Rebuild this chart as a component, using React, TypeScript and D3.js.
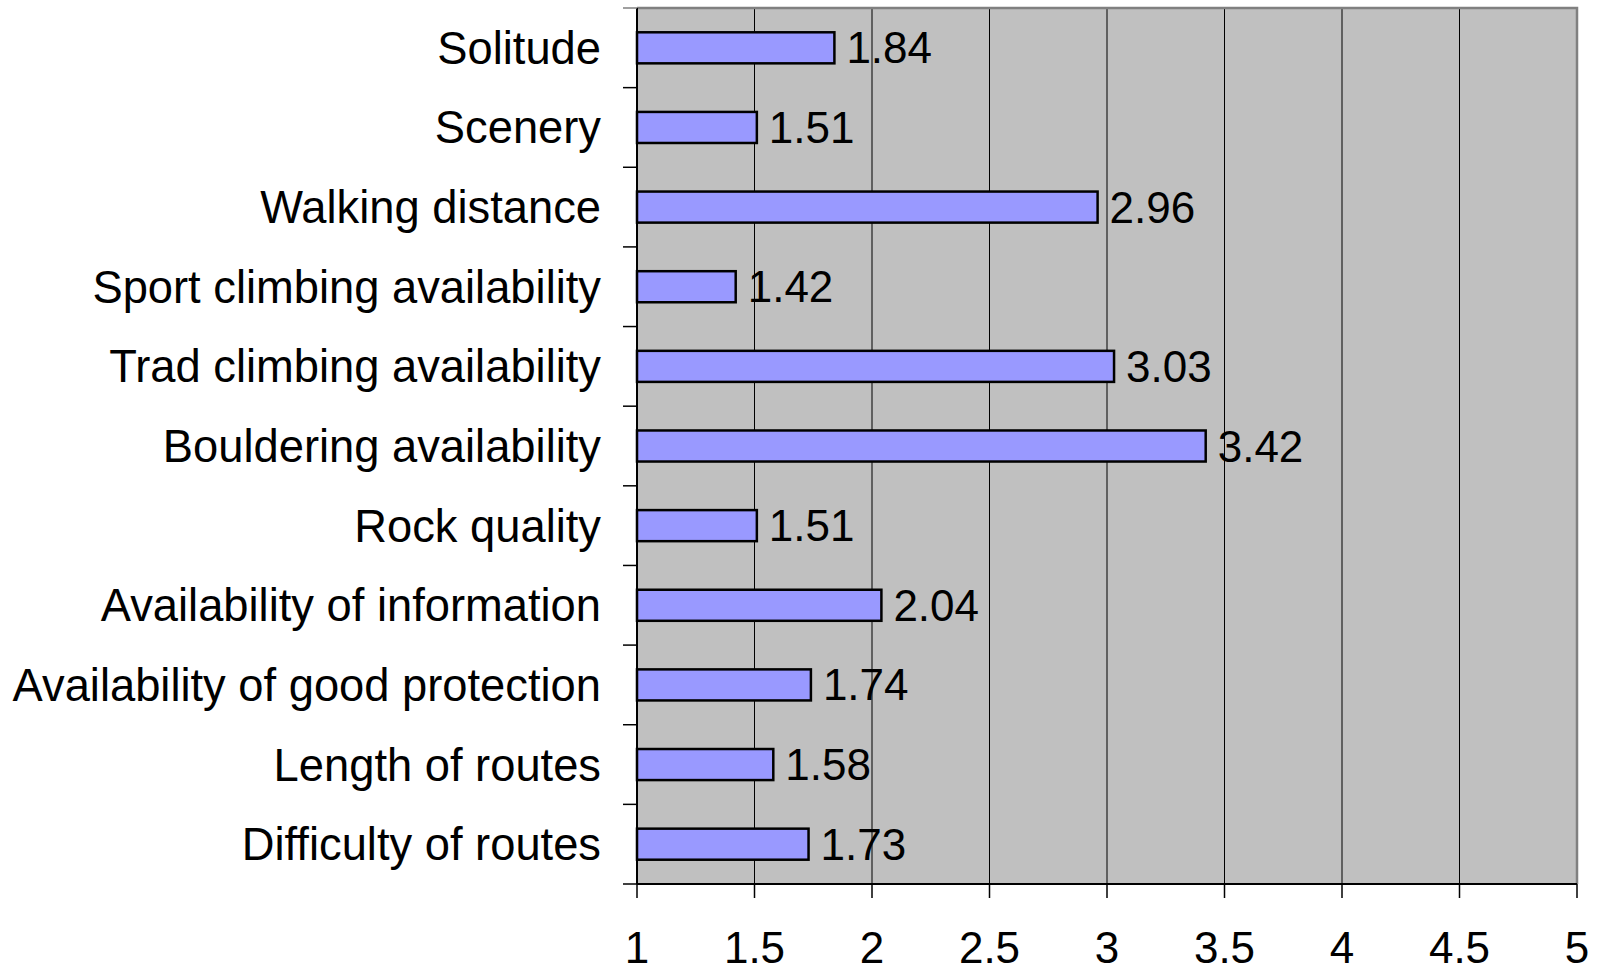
import React from "react";
import * as d3 from "d3";

const categories = [
  "Solitude",
  "Scenery",
  "Walking distance",
  "Sport climbing availability",
  "Trad climbing availability",
  "Bouldering availability",
  "Rock quality",
  "Availability of information",
  "Availability of good protection",
  "Length of routes",
  "Difficulty of routes",
];
const values = [1.84, 1.51, 2.96, 1.42, 3.03, 3.42, 1.51, 2.04, 1.74, 1.58, 1.73];
const xTicks = [1, 1.5, 2, 2.5, 3, 3.5, 4, 4.5, 5];
const xTickLabels = ["1", "1.5", "2", "2.5", "3", "3.5", "4", "4.5", "5"];

const W = 1597;
const H = 971;
const plot = { left: 637, right: 1577, top: 8, bottom: 884 };
const FONT = "Arial, 'Liberation Sans', sans-serif";

export default function App() {
  const x = d3.scaleLinear().domain([1, 5]).range([plot.left, plot.right]);
  const y = d3
    .scaleBand<string>()
    .domain(categories)
    .range([plot.top, plot.bottom])
    .paddingInner(0.61)
    .paddingOuter(0.305);
  const step = y.step();
  const boundaries = d3.range(categories.length + 1).map((i) => plot.top + i * step);

  return (
    <svg
      width={W}
      height={H}
      style={{ position: "absolute", left: 0, top: 0, background: "#fff" }}
      fontFamily={FONT}
    >
      {/* plot background */}
      <rect
        x={plot.left}
        y={plot.top}
        width={plot.right - plot.left}
        height={plot.bottom - plot.top}
        fill="#c0c0c0"
      />
      {/* vertical gridlines */}
      {xTicks.slice(1, -1).map((t) => (
        <line
          key={"g" + t}
          x1={x(t)}
          x2={x(t)}
          y1={plot.top}
          y2={plot.bottom}
          stroke="#000"
          strokeWidth={1}
        />
      ))}
      {/* top and right frame */}
      <path
        d={`M${plot.left},${plot.top}H${plot.right}V${plot.bottom}`}
        fill="none"
        stroke="#808080"
        strokeWidth={2.5}
      />
      {/* bars */}
      {categories.map((c, i) => (
        <rect
          key={c}
          x={x(1)}
          y={y(c)!}
          width={x(values[i]) - x(1)}
          height={y.bandwidth()}
          fill="#9999ff"
          stroke="#000"
          strokeWidth={2.5}
        />
      ))}
      {/* value labels */}
      {categories.map((c, i) => (
        <text
          key={"v" + c}
          x={x(values[i]) + 12}
          y={y(c)! + y.bandwidth() / 2 + 15.5}
          fontSize={44}
          fill="#000"
        >
          {values[i].toFixed(2)}
        </text>
      ))}
      {/* y axis */}
      <line x1={plot.left} x2={plot.left} y1={plot.top} y2={plot.bottom} stroke="#000" strokeWidth={2} />
      {boundaries.map((b, i) => (
        <line
          key={"yt" + i}
          x1={plot.left - 14}
          x2={plot.left}
          y1={b}
          y2={b}
          stroke={i === 0 ? "#808080" : "#000"}
          strokeWidth={1.5}
        />
      ))}
      {categories.map((c) => (
        <text
          key={"l" + c}
          x={601}
          y={y(c)! + y.bandwidth() / 2 + 16}
          fontSize={45.3}
          textAnchor="end"
          fill="#000"
        >
          {c}
        </text>
      ))}
      {/* x axis */}
      <line x1={plot.left} x2={plot.right} y1={plot.bottom} y2={plot.bottom} stroke="#000" strokeWidth={2} />
      {xTicks.map((t, i) => (
        <g key={"xt" + t}>
          <line x1={x(t)} x2={x(t)} y1={plot.bottom} y2={plot.bottom + 14} stroke="#000" strokeWidth={1.5} />
          <text x={x(t)} y={963} fontSize={44} textAnchor="middle" fill="#000">
            {xTickLabels[i]}
          </text>
        </g>
      ))}
    </svg>
  );
}
